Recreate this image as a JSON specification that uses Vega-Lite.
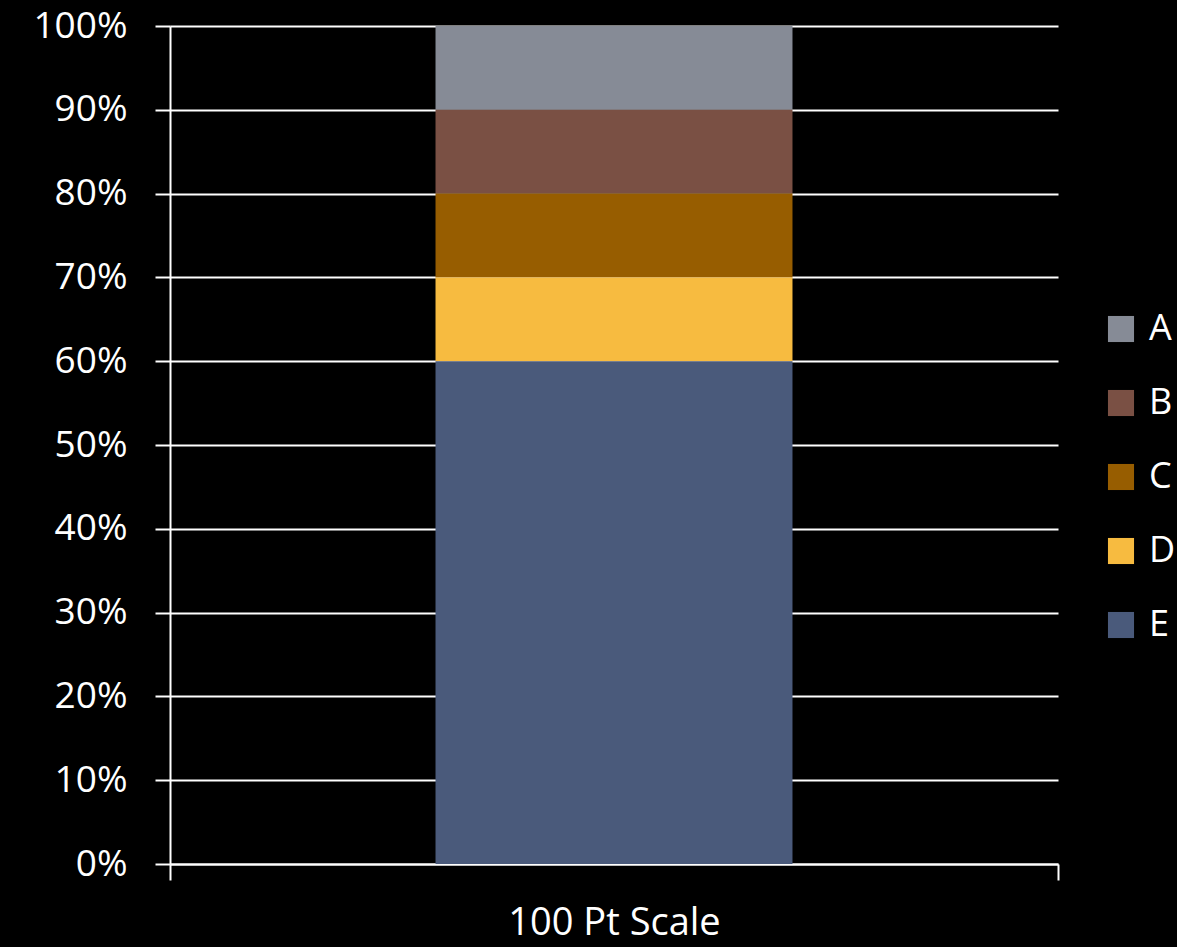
{
  "$schema": "https://vega.github.io/schema/vega-lite/v6.json",
  "width": 888,
  "height": 838,
  "autosize": "none",
  "padding": {"left": 170, "top": 26, "right": 119, "bottom": 83},
  "background": "#000000",
  "data": {"values": [
    {"scale": "100 Pt Scale", "series": "A", "value": 10},
    {"scale": "100 Pt Scale", "series": "B", "value": 10},
    {"scale": "100 Pt Scale", "series": "C", "value": 10},
    {"scale": "100 Pt Scale", "series": "D", "value": 10},
    {"scale": "100 Pt Scale", "series": "E", "value": 60}
  ]},
  "config": {
    "view": {"stroke": null},
    "font": "Open Sans"
  },
  "mark": {"type": "bar", "width": {"band": 0.402}},
  "encoding": {
    "x": {
      "field": "scale", "type": "nominal",
      "scale": {"paddingInner": 0, "paddingOuter": 0},
      "axis": {
        "title": null, "labelAngle": 0, "tickBand": "extent",
        "domainColor": "#ffffff", "domainWidth": 2,
        "tickColor": "#ffffff", "tickWidth": 2, "tickSize": 16,
        "labelColor": "#ffffff", "labelFontSize": 38, "labelPadding": 24,
        "labelFont": "Open Sans", "labelLimit": 0
      }
    },
    "y": {
      "field": "value", "type": "quantitative", "stack": "normalize",
      "scale": {"domain": [0, 1], "nice": false},
      "axis": {
        "title": null, "format": ".0%",
        "values": [0, 0.1, 0.2, 0.3, 0.4, 0.5, 0.6, 0.7, 0.8, 0.9, 1],
        "grid": true, "gridColor": "#ffffff", "gridWidth": 2, "gridOpacity": 1,
        "domainColor": "#ffffff", "domainWidth": 2,
        "tickColor": "#ffffff", "tickWidth": 2, "tickSize": 15,
        "labelColor": "#ffffff", "labelFontSize": 37, "labelPadding": 28,
        "labelFont": "Open Sans", "labelLimit": 0
      }
    },
    "color": {
      "field": "series", "type": "nominal",
      "scale": {"domain": ["A", "B", "C", "D", "E"], "range": ["#868b96", "#7a5044", "#975d00", "#f7bb40", "#4a5a7b"]},
      "legend": {
        "title": null, "orient": "none", "legendX": 933, "legendY": 285,
        "symbolType": "square", "symbolSize": 680, "symbolStrokeWidth": 0,
        "symbolOpacity": 1,
        "labelColor": "#ffffff", "labelFontSize": 36, "labelFont": "Open Sans",
        "labelOffset": 10, "rowPadding": 38, "labelLimit": 0
      }
    },
    "order": {"field": "series", "sort": "descending"}
  }
}
